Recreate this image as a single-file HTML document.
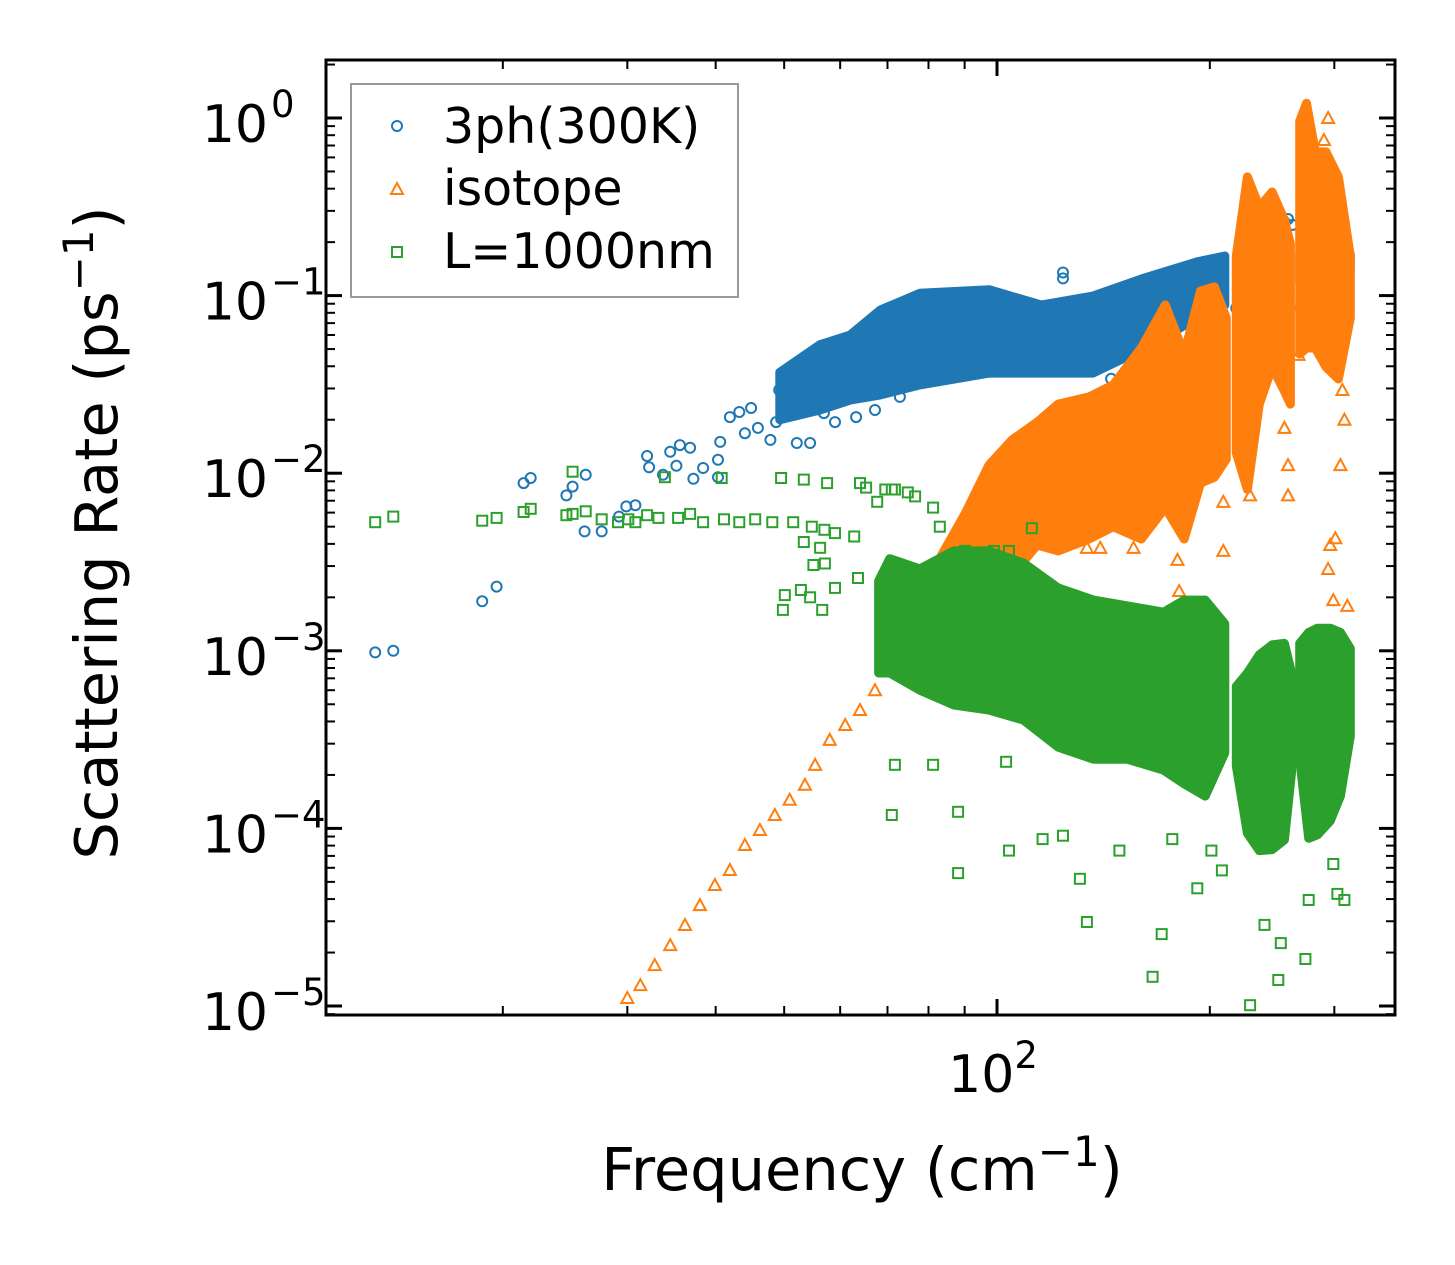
<!DOCTYPE html>
<html><head><meta charset="utf-8">
<style>
html,body{margin:0;padding:0;background:#fff;}
svg{display:block;}
text{font-family:"DejaVu Sans","Liberation Sans",sans-serif;fill:#000;}
</style></head>
<body>
<svg id="chart" width="1455" height="1265" viewBox="0 0 1455 1265" xmlns="http://www.w3.org/2000/svg">
  <rect x="0" y="0" width="1455" height="1265" fill="#fff"/>
  <g id="series"></g>
  <rect x="326" y="60" width="1069" height="955" fill="none" stroke="#000" stroke-width="3"/>
  <g id="ticks"></g>
  <g id="ylabels"></g>
  <text x="993" y="1092" font-size="52" text-anchor="middle">10<tspan dy="-24" font-size="37">2</tspan></text>
  <text x="862" y="1190" font-size="59" text-anchor="middle">Frequency (cm<tspan dy="-24" font-size="42">−1</tspan><tspan dy="24">)</tspan></text>
  <text transform="translate(117,533) rotate(-90)" font-size="59" text-anchor="middle">Scattering Rate (ps<tspan dy="-24" font-size="42">−1</tspan><tspan dy="24">)</tspan></text>
  <g>
    <rect x="351" y="84" width="387" height="213" fill="#fff" fill-opacity="0.8" stroke="#999" stroke-width="2"/>
    <circle cx="397" cy="126" r="5" fill="none" stroke="#1f77b4" stroke-width="2"/>
    <text x="443" y="143" font-size="49">3ph(300K)</text>
    <polygon points="397,183 403,194 391,194" fill="none" stroke="#ff7f0e" stroke-width="2"/>
    <text x="443" y="205" font-size="49">isotope</text>
    <rect x="392" y="247" width="10" height="10" fill="none" stroke="#2ca02c" stroke-width="2"/>
    <text x="443" y="268" font-size="49">L=1000nm</text>
  </g>
</svg>
<script>
// ---------- data ----------
const blueF = [13.2,14.0,18.7,19.6,21.4,21.9,24.6,25.1,26.2,26.1,27.6,29.2,29.9,30.8,32.0,32.2,33.7,34.5,35.6,36.8,35.2,37.2,38.4,40.3,40.3,40.6,41.9,43.2,44.9,44.0,45.9,47.8,49.2,52.1,54.4,48.7,56.9,59.0,63.2,67.2,72.9,124,124,145,218,226,255,258,262];
const blueR = [9.8e-4,1.0e-3,1.9e-3,2.3e-3,8.8e-3,9.4e-3,7.5e-3,8.4e-3,9.8e-3,4.7e-3,4.7e-3,5.7e-3,6.5e-3,6.6e-3,0.0125,0.0108,0.0098,0.0132,0.0144,0.0139,0.011,0.0093,0.0107,0.0119,0.0095,0.015,0.0207,0.0221,0.0233,0.0168,0.018,0.0154,0.0294,0.0148,0.0148,0.0194,0.0218,0.0194,0.0207,0.0227,0.0269,0.135,0.125,0.034,0.085,0.09,0.26,0.27,0.25];
const blueBandF  = [49.3,56.2,62.0,68.4,77.8,97.5,115.4,136.7,162,192,210];
const blueBandLo = [0.020,0.0227,0.0258,0.0276,0.0314,0.0366,0.0366,0.0366,0.0507,0.0748,0.0885];
const blueBandHi = [0.037,0.053,0.060,0.083,0.103,0.108,0.0885,0.0995,0.126,0.155,0.167];
const blueBand2F  = [268,290,316];
const blueBand2Lo = [0.12,0.13,0.14];
const blueBand2Hi = [0.17,0.16,0.17];

const orangeF = [30.0,31.3,32.8,34.5,36.2,38.0,39.9,41.9,44.0,46.2,48.5,50.9,53.5,55.3,58.0,61.0,64.0,67.2,69.4,294,290,306,296,299,313,294,258,258,228,209,209,180,181,223,267,255,134,156,140,123,268,308,310,301];
const orangeR = [1.11e-5,1.31e-5,1.70e-5,2.20e-5,2.86e-5,3.70e-5,4.80e-5,5.83e-5,8.07e-5,9.8e-5,1.19e-4,1.45e-4,1.76e-4,2.28e-4,3.15e-4,3.82e-4,4.64e-4,6.0e-4,7.8e-4,1.0,0.752,0.0111,3.94e-3,1.93e-3,1.79e-3,2.89e-3,0.0111,7.5e-3,7.5e-3,3.65e-3,6.9e-3,3.25e-3,2.17e-3,0.013,0.0464,0.018,3.8e-3,3.8e-3,3.8e-3,5.1e-3,0.0885,0.0294,0.02,4.3e-3];
const orangeAF  = [69.4,77.8,82.3,90.1,97.4,105,114,122,135,146,160,173,184,194,203,211];
const orangeAHi = [1.02e-3,2.26e-3,3.12e-3,5.9e-3,0.0111,0.0154,0.0194,0.0245,0.0269,0.0314,0.0507,0.0885,0.0469,0.106,0.112,0.0748];
const orangeALo = [7.5e-4,1.65e-3,2.47e-3,3.12e-3,3.37e-3,2.67e-3,3.94e-3,3.65e-3,4.26e-3,5.0e-3,4.26e-3,6.4e-3,4.26e-3,8.8e-3,9.5e-3,0.012];
const orangeBF  = [218,226,235,245,255,260];
const orangeBHi = [0.167,0.466,0.315,0.383,0.267,0.195];
const orangeBLo = [0.013,8.1e-3,0.0245,0.0396,0.029,0.0245];
const orangeCF  = [268,274,282,292,304,316];
const orangeCHi = [0.96,1.21,0.644,0.644,0.466,0.167];
const orangeCLo = [0.0469,0.0507,0.0507,0.0396,0.0339,0.0748];

const greenF = [13.2,14.0,18.7,19.6,21.4,21.9,24.6,25.1,26.2,25.1,27.6,29.1,30.1,30.8,32.0,33.2,33.9,35.4,36.8,38.4,40.8,41.1,43.2,45.5,49.5,53.3,57.5,48.1,51.5,54.7,57.0,59.0,62.8,53.3,56.2,50.1,49.8,52.8,54.4,56.6,55.0,57.1,59.0,63.6,65.3,67.7,71.0,74.8,76.6,
  71.0,81.2,88.1,88.1,104,116,124,131,134,149,166,171,177,228,239,250,273,310,303,208,201,192,71.7,103,252,276,299,64.0,69.5,71.7,81.2,83.0,112,99.0,90.1,104];
const greenR = [5.3e-3,5.7e-3,5.4e-3,5.6e-3,6.05e-3,6.3e-3,5.8e-3,5.9e-3,6.1e-3,0.0102,5.5e-3,5.3e-3,5.5e-3,5.3e-3,5.8e-3,5.6e-3,9.5e-3,5.6e-3,5.9e-3,5.3e-3,9.4e-3,5.5e-3,5.3e-3,5.5e-3,9.4e-3,9.2e-3,8.8e-3,5.3e-3,5.3e-3,5.0e-3,4.8e-3,4.6e-3,4.4e-3,4.1e-3,3.8e-3,2.06e-3,1.70e-3,2.2e-3,2.0e-3,1.70e-3,3.04e-3,3.1e-3,2.26e-3,2.57e-3,8.3e-3,6.9e-3,8.1e-3,7.8e-3,7.4e-3,
  1.19e-4,2.28e-4,1.24e-4,5.6e-5,7.5e-5,8.7e-5,9.1e-5,5.2e-5,2.97e-5,7.5e-5,1.46e-5,2.54e-5,8.7e-5,1.01e-5,2.86e-5,1.40e-5,1.84e-5,3.95e-5,4.28e-5,5.8e-5,7.5e-5,4.6e-5,2.28e-4,2.37e-4,2.26e-5,3.95e-5,6.3e-5,8.8e-3,8.1e-3,8.1e-3,6.4e-3,5.0e-3,4.9e-3,3.65e-3,3.65e-3,3.65e-3];
const greenAF  = [68.0,70.5,77.8,86.9,97.4,109,122,137,153,172,184,197,210];
const greenAHi = [2.47e-3,3.3e-3,2.89e-3,3.65e-3,3.65e-3,3.12e-3,2.26e-3,1.93e-3,1.79e-3,1.65e-3,1.93e-3,1.93e-3,1.42e-3];
const greenALo = [7.5e-4,7.5e-4,6.0e-4,4.95e-4,4.64e-4,4.07e-4,2.87e-4,2.45e-4,2.45e-4,2.13e-4,1.78e-4,1.52e-4,2.66e-4];
const greenBF  = [218,226,235,245,255,261];
const greenBHi = [6.3e-4,7.5e-4,9.5e-4,1.08e-3,1.1e-3,7.5e-4];
const greenBLo = [2.25e-4,9.4e-5,7.5e-5,7.6e-5,8.6e-5,2.08e-4];
const greenCF  = [268,276,284,296,306,316];
const greenCHi = [1.1e-3,1.27e-3,1.34e-3,1.34e-3,1.27e-3,1.03e-3];
const greenCLo = [2.45e-4,8.8e-5,9.2e-5,1.1e-4,1.52e-4,3.3e-4];

const yTickExps = [0,-1,-2,-3,-4,-5];
const xMinorTicks = [20,30,40,50,60,70,80,90,200,300];
const xMajorTicks = [100];

// ---------- scales ----------
function X(f){ return 997 + (Math.log10(f) - 2) * 707; }
function Y(r){ return 118 - Math.log10(r) * 177.6; }
const NS = "http://www.w3.org/2000/svg";
const series = document.getElementById('series');
const ticks = document.getElementById('ticks');
const ylabels = document.getElementById('ylabels');
const C = {blue:'#1f77b4', orange:'#ff7f0e', green:'#2ca02c'};

function band(F, Lo, Hi, color, name){
  const pts = [];
  for (let i=0;i<F.length;i++) pts.push(X(F[i]).toFixed(1)+','+Y(Hi[i]).toFixed(1));
  for (let i=F.length-1;i>=0;i--) pts.push(X(F[i]).toFixed(1)+','+Y(Lo[i]).toFixed(1));
  const p = document.createElementNS(NS,'polygon');
  p.setAttribute('points', pts.join(' '));
  p.setAttribute('fill', color);
  p.setAttribute('stroke', color);
  p.setAttribute('stroke-width', '9');
  p.setAttribute('stroke-linejoin', 'round');
  
  
  series.appendChild(p);
}
function circles(F, R){
  for (let i=0;i<F.length;i++){
    const c = document.createElementNS(NS,'circle');
    c.setAttribute('cx', X(F[i]).toFixed(1));
    c.setAttribute('cy', Y(R[i]).toFixed(1));
    c.setAttribute('r', '5');
    c.setAttribute('fill', 'none');
    c.setAttribute('stroke', C.blue);
    c.setAttribute('stroke-width', '2');
    
    
    series.appendChild(c);
  }
}
function triangles(F, R){
  for (let i=0;i<F.length;i++){
    const x = X(F[i]), y = Y(R[i]);
    const t = document.createElementNS(NS,'polygon');
    t.setAttribute('points', x+','+(y-6)+' '+(x+6)+','+(y+5)+' '+(x-6)+','+(y+5));
    t.setAttribute('fill', 'none');
    t.setAttribute('stroke', C.orange);
    t.setAttribute('stroke-width', '2');
    
    
    series.appendChild(t);
  }
}
function squares(F, R){
  for (let i=0;i<F.length;i++){
    const x = X(F[i]), y = Y(R[i]);
    const s = document.createElementNS(NS,'rect');
    s.setAttribute('x', (x-5).toFixed(1));
    s.setAttribute('y', (y-5).toFixed(1));
    s.setAttribute('width', '10');
    s.setAttribute('height', '10');
    s.setAttribute('fill', 'none');
    s.setAttribute('stroke', C.green);
    s.setAttribute('stroke-width', '2');
    
    
    series.appendChild(s);
  }
}

band(blueBandF, blueBandLo, blueBandHi, C.blue, '3ph-dense-band');
band(blueBand2F, blueBand2Lo, blueBand2Hi, C.blue, '3ph-dense-band-high');
circles(blueF, blueR);
band(orangeAF, orangeALo, orangeAHi, C.orange, 'isotope-dense-band-a');
band(orangeBF, orangeBLo, orangeBHi, C.orange, 'isotope-dense-band-b');
band(orangeCF, orangeCLo, orangeCHi, C.orange, 'isotope-dense-band-c');
triangles(orangeF, orangeR);
band(greenAF, greenALo, greenAHi, C.green, 'l1000nm-dense-band-a');
band(greenBF, greenBLo, greenBHi, C.green, 'l1000nm-dense-band-b');
band(greenCF, greenCLo, greenCHi, C.green, 'l1000nm-dense-band-c');
squares(greenF, greenR);

// ---------- ticks ----------
function line(x1,y1,x2,y2,w,name){
  const l = document.createElementNS(NS,'line');
  l.setAttribute('x1',x1); l.setAttribute('y1',y1);
  l.setAttribute('x2',x2); l.setAttribute('y2',y2);
  l.setAttribute('stroke','#000'); l.setAttribute('stroke-width',w);
  
  
  ticks.appendChild(l);
}
for (const e of yTickExps){
  const y = Y(Math.pow(10,e));
  line(326,y,342,y,3,'y-major-tick');
  line(1395,y,1379,y,3,'y-major-tick');
  const t = document.createElementNS(NS,'text');
  t.setAttribute('x', 268); t.setAttribute('y', y+24);
  t.setAttribute('font-size', '52');
  t.setAttribute('text-anchor', 'end');
  
  
  t.textContent = '10';
  ylabels.appendChild(t);
  const s = document.createElementNS(NS,'text');
  s.setAttribute('x', 271); s.setAttribute('y', y-1);
  s.setAttribute('font-size', '37');
  
  
  s.textContent = e === 0 ? '0' : '−' + (-e);
  ylabels.appendChild(s);
  for (let m=2;m<=9;m++){
    const ym = Y(m*Math.pow(10,e-1));
    if (ym > 1015 || ym < 60) continue;
    line(326,ym,335,ym,2,'y-minor-tick');
    line(1395,ym,1386,ym,2,'y-minor-tick');
  }
}
for (let m=2;m<=9;m++){
  const ym = Y(m);
  if (ym >= 60) { line(326,ym,335,ym,2,'y-minor-tick'); line(1395,ym,1386,ym,2,'y-minor-tick'); }
}
for (const f of xMajorTicks){
  const x = X(f);
  line(x,1015,x,999,3,'x-major-tick');
  line(x,60,x,76,3,'x-major-tick');
}
for (const f of xMinorTicks){
  const x = X(f);
  line(x,1015,x,1006,2,'x-minor-tick');
  line(x,60,x,69,2,'x-minor-tick');
}
</script>
</body></html>
